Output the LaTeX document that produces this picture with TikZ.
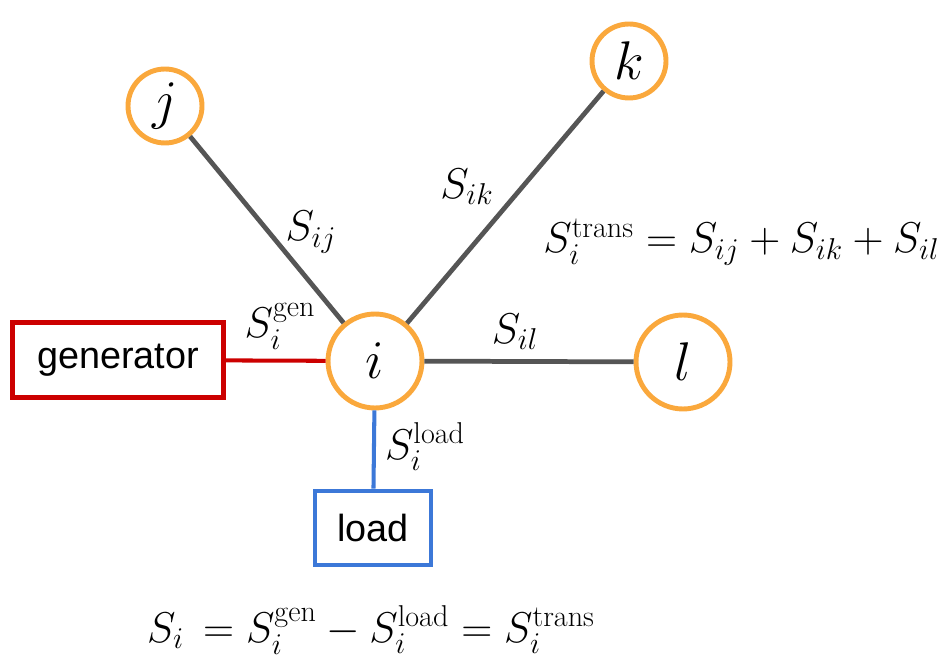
\documentclass[tikz,border=0pt]{standalone}
\usepackage{fix-cm}
\usepackage{amsmath}
\usepackage{fontspec}
\newfontfamily\unitfont{Liberation Sans}
\definecolor{busO}{RGB}{250,168,60}
\definecolor{genR}{RGB}{204,0,0}
\definecolor{loadB}{RGB}{60,120,216}
\definecolor{lineG}{RGB}{85,85,85}

\begin{document}
\begin{tikzpicture}[x=0.02cm,y=-0.02cm,
  bus/.style={circle,draw=busO,line width=2.8pt,inner sep=0pt,font=\fontsize{31}{36}\selectfont},
  unit/.style={rectangle,line width=2.6pt,inner sep=0pt,font=\unitfont\fontsize{21.5}{26}\selectfont},
  branch/.style={draw=lineG,line width=2.7pt},
  flow/.style={inner sep=0pt,font=\fontsize{24.5}{29}\selectfont}]
\useasboundingbox (0,0) rectangle (949,661);
% buses
\node[bus,minimum size=1.88cm] (i) at (375,361) {$i$};
\node[bus,minimum size=1.48cm] (j) at (165,106) {$j$};
\node[bus,minimum size=1.48cm] (k) at (629,61) {$k$};
\node[bus,minimum size=1.88cm] (l) at (683,362) {$l$};
% generator and load
\node[unit,draw=genR,minimum width=4.22cm,minimum height=1.5cm] (gen) at (118,360) {generator};
\node[unit,draw=loadB,minimum width=2.32cm,minimum height=1.48cm] (load) at (373,528) {load};
% branches
\draw[branch] (j)--(i);
\draw[branch] (k)--(i);
\draw[branch] (i)--(l);
\draw[genR,line width=2.3pt] (gen)--(i);
\draw[loadB,line width=2.3pt] (i)--(load);
% power flow labels
\node[flow] (sij) at (311,232) {$S_{ij}$};
\node[flow] (sik) at (467,187) {$S_{ik}$};
\node[flow] (sil) at (515,332) {$S_{il}$};
\node[flow] (sgen) at (280,326) {$S_i^{\mathrm{gen}}$};
\node[flow] (sload) at (425,447) {$S_i^{\mathrm{load}}$};
\node[flow,anchor=west] (strans) at (543,242) {$S_i^{\mathrm{trans}} = S_{ij} + S_{ik} + S_{il}$};
\node[flow] (sbal) at (371,630) {$S_i \,= S_i^{\mathrm{gen}} - S_i^{\mathrm{load}} = S_i^{\mathrm{trans}}$};
\end{tikzpicture}
\end{document}
